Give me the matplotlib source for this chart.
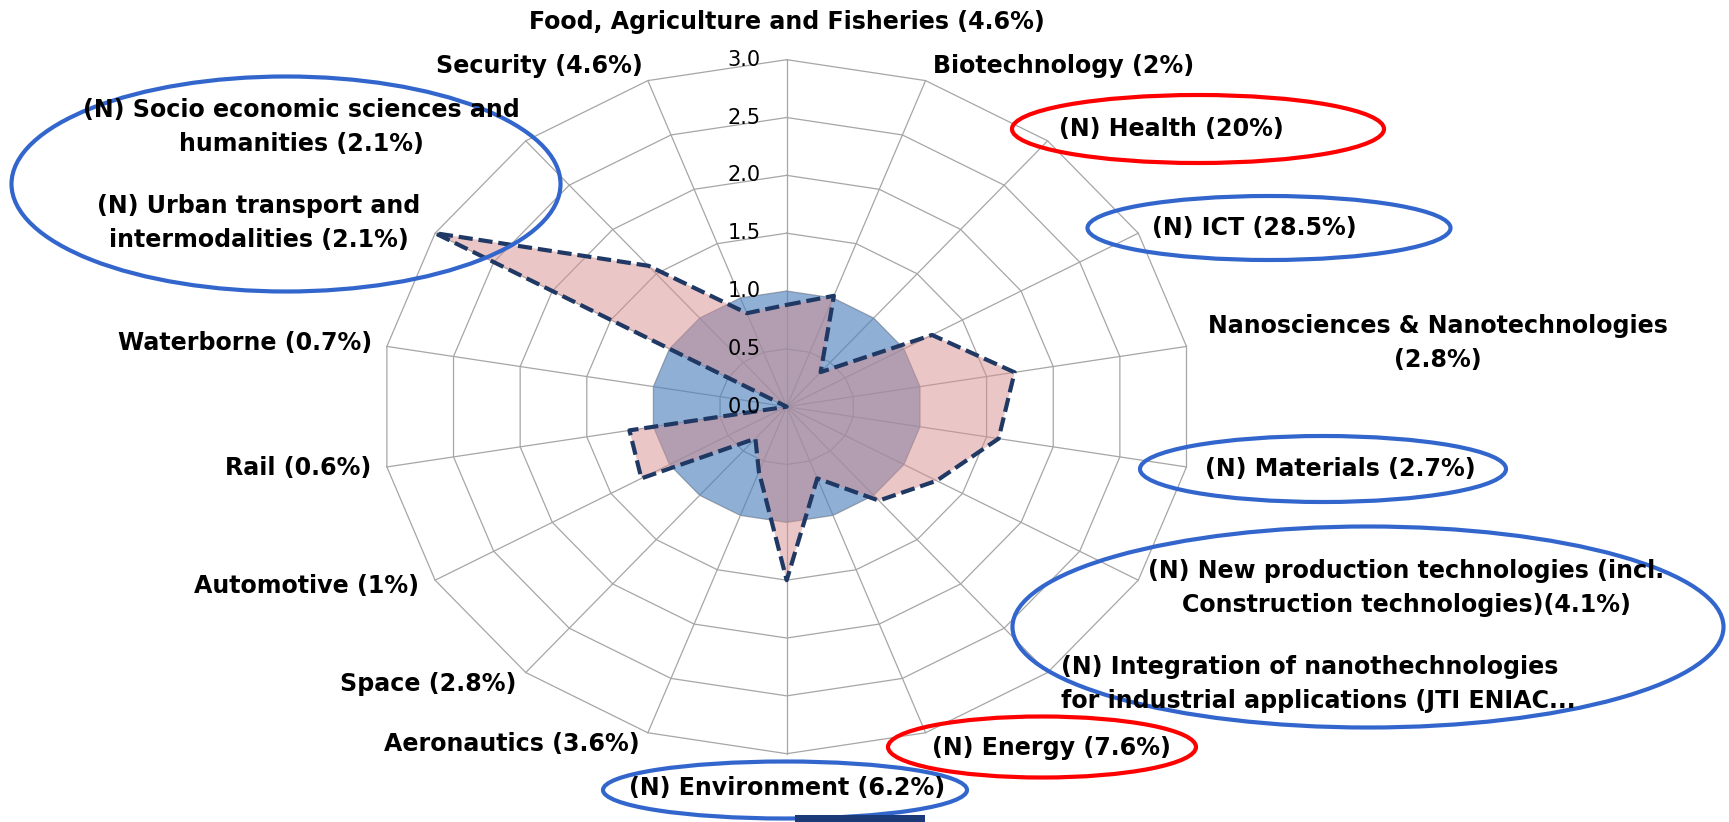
import numpy as np
import matplotlib
matplotlib.use('Agg')
from matplotlib import pyplot as plt
from matplotlib import font_manager
from matplotlib.patches import Ellipse, Rectangle
from matplotlib.transforms import offset_copy

# categories, clockwise from the top
categories = [
    'Food, Agriculture and Fisheries (4.6%)',
    'Biotechnology (2%)',
    '(N) Health (20%)',
    '(N) ICT (28.5%)',
    'Nanosciences & Nanotechnologies\n(2.8%)',
    '(N) Materials (2.7%)',
    '(N) New production technologies (incl.\nConstruction technologies)(4.1%)',
    '(N) Integration of nanothechnologies\nfor industrial applications (JTI ENIAC...',
    '(N) Energy (7.6%)',
    '(N) Environment (6.2%)',
    'Aeronautics (3.6%)',
    'Space (2.8%)',
    'Automotive (1%)',
    'Rail (0.6%)',
    'Waterborne (0.7%)',
    '(N) Urban transport and\nintermodalities (2.1%)',
    '(N) Socio economic sciences and\nhumanities (2.1%)',
    'Security (4.6%)',
]
reference = [1.0] * 18
ratio = [0.88, 1.02, 0.39, 1.24, 1.71, 1.59, 1.28, 1.06, 0.66,
         1.50, 0.60, 0.36, 1.24, 1.18, 0.0, 3.0, 1.59, 0.86]
ring_values = [0.0, 0.5, 1.0, 1.5, 2.0, 2.5, 3.0]

W, H = 1729, 822


def fig_xy(x, y):
    """pixel position measured from the top-left -> figure fraction"""
    return x / W, 1 - y / H


# label anchor points in pixels (x, y from top) and alignment
label_pos = [
    (787, 22, 'center'), (933, 66, 'left'), (1059, 129, 'left'),
    (1152, 228, 'left'), (1438, 343, 'center'), (1205, 469, 'left'),
    (1406, 588, 'center'), (1061, 684, 'left'), (932, 748, 'left'),
    (787, 788, 'center'), (640, 744, 'right'), (516, 684, 'right'),
    (419, 586, 'right'), (371, 468, 'right'), (372, 343, 'right'),
    (259, 223, 'center'), (301, 127, 'center'), (643, 66, 'right'),
]

# highlight ellipses: centre x, centre y, width, height (pixels), colour
ellipses = [
    (1198, 129, 372, 68, '#ff0000'),
    (1269, 228, 363, 64, '#3366cc'),
    (1323, 469, 366, 66, '#3366cc'),
    (1368, 627, 711, 201, '#3366cc'),
    (1042, 747, 308, 61, '#ff0000'),
    (785, 790, 364, 57, '#3366cc'),
    (286, 184, 549, 215, '#3366cc'),
]

label_font = 'DejaVu Sans'
for cand in ['Liberation Sans Narrow', 'DejaVu Sans Condensed']:
    try:
        font_manager.findfont(cand, fallback_to_default=False)
        label_font = cand
        break
    except ValueError:
        pass

fig = plt.figure(figsize=(W / 100, H / 100), dpi=100)
fig.patch.set_facecolor('white')

# the original chart is stretched sideways, so the polar axes gets a wide box
ax = fig.add_axes([0.2202, 0.0831, 0.4696, 0.8443], projection='polar')
ax.set_aspect('auto')
ax.set_theta_zero_location('N')
ax.set_theta_direction(-1)
ax.set_ylim(0, 3)
ax.grid(False)
ax.set_xticks([])
ax.set_yticks([])
ax.spines['polar'].set_visible(False)
ax.patch.set_facecolor('none')

n = len(categories)
angles = np.arange(n) * 2 * np.pi / n
closed = np.append(angles, angles[0])

# polygon grid
for r in ring_values[1:]:
    ax.plot(closed, [r] * (n + 1), color='#a6a6a6', lw=0.9, zorder=1, clip_on=False)
for a in angles:
    ax.plot([a, a], [0, ring_values[-1]], color='#a6a6a6', lw=0.9, zorder=1, clip_on=False)

# series
ax.fill(closed, reference + reference[:1], color='#4f81bd', alpha=0.63, lw=0, zorder=2)
ratio_closed = ratio + ratio[:1]
ax.fill(closed, ratio_closed, color='#d68f8f', alpha=0.5, lw=0, zorder=3)
ax.plot(closed, ratio_closed, color='#1f3864', lw=3.0, linestyle=(0, (3.4, 1.4)),
        zorder=4, clip_on=False)

# radial tick labels along the top spoke
tick_tr = offset_copy(ax.transData, fig=fig, x=-26, y=0, units='dots')
for r in ring_values:
    ax.text(0, r, f'{r:.1f}', transform=tick_tr, ha='right', va='center',
            fontsize=15, family='DejaVu Sans', color='black', zorder=5)

# category labels; size tuned so the top label is as wide as in the original
labels = []
for text, (x, y, ha) in zip(categories, label_pos):
    fx, fy = fig_xy(x, y)
    t = fig.text(fx, fy, text, ha=ha, va='center', multialignment=ha,
                 fontsize=19, family=label_font, fontweight='bold',
                 linespacing=1.55, color='black')
    labels.append(t)

renderer = fig.canvas.get_renderer()
width_now = labels[0].get_window_extent(renderer).width
new_size = 19 * 516 / width_now
for t in labels:
    t.set_fontsize(new_size)

# highlight ellipses
for cx, cy, w, h, col in ellipses:
    fx, fy = fig_xy(cx, cy)
    fig.add_artist(Ellipse((fx, fy), w / W, h / H, transform=fig.transFigure,
                           fill=False, edgecolor=col, lw=3))

# cut-off legend bar at the bottom edge
fx, fy = fig_xy(795, 822)
fig.add_artist(Rectangle((fx, fy), 130 / W, 7 / H, transform=fig.transFigure,
                         color='#1c3a78', lw=0))

fig.savefig('out.png', dpi=100)
